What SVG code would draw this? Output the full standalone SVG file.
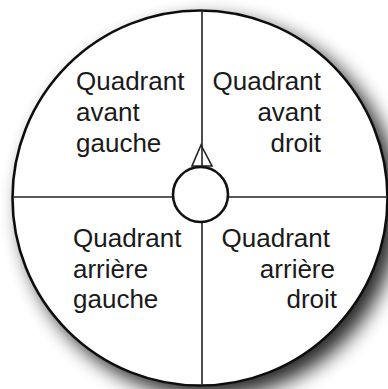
<svg xmlns="http://www.w3.org/2000/svg" width="388" height="389" viewBox="0 0 388 389">
<style>
.lbl{font-family:"Liberation Sans",Arial,sans-serif;font-size:26px;fill:#1a1a1a}
.ln{stroke:#222;stroke-width:1.6;fill:none}
.ring{stroke:#111;stroke-width:2.6;fill:#fff}
</style>
<defs>
<filter id="sh" x="-20%" y="-20%" width="150%" height="150%">
<feGaussianBlur in="SourceAlpha" stdDeviation="10"/>
<feOffset dx="10" dy="10" result="b"/>
<feComponentTransfer in="b" result="c"><feFuncA type="linear" slope="0.85"/></feComponentTransfer>
<feMerge><feMergeNode in="c"/><feMergeNode in="SourceGraphic"/></feMerge>
</filter>
</defs>
<rect width="388" height="389" fill="#fff"/>
<g id="wheel">
<circle class="ring" cx="200" cy="198" r="187.5" filter="url(#sh)"/>
</g>
<g id="connectors">
<line class="ln" x1="202" y1="10" x2="202" y2="386"/>
<line class="ln" x1="13" y1="197" x2="387" y2="197"/>
<polygon class="ln" points="201,145 192,166 212,166"/>
</g>
<g id="hub">
<circle class="ring" cx="200.5" cy="194.5" r="27.5"/>
</g>
<g id="q-avant-gauche">
<text class="lbl" x="76" y="90">Quadrant</text>
<text class="lbl" x="76" y="121">avant</text>
<text class="lbl" x="76" y="152">gauche</text>
</g>
<g id="q-avant-droit" text-anchor="end">
<text class="lbl" x="321" y="90">Quadrant</text>
<text class="lbl" x="321" y="121">avant</text>
<text class="lbl" x="321" y="152">droit</text>
</g>
<g id="q-arriere-gauche">
<text class="lbl" x="73" y="247">Quadrant</text>
<text class="lbl" x="73" y="278">arrière</text>
<text class="lbl" x="73" y="308">gauche</text>
</g>
<g id="q-arriere-droit" text-anchor="end">
<text class="lbl" x="330" y="247">Quadrant</text>
<text class="lbl" x="335" y="278">arrière</text>
<text class="lbl" x="337" y="308">droit</text>
</g>
</svg>
